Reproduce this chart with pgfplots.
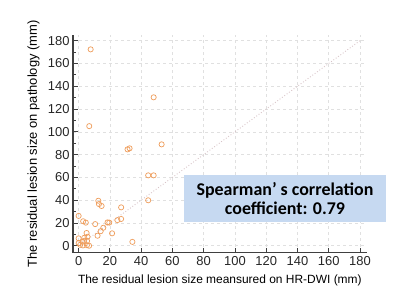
\documentclass[border=0pt]{standalone}
\usepackage{pgfplots}
\pgfplotsset{compat=1.18}
\usepackage{fontspec}
\setmainfont{Liberation Sans}
\newfontfamily\carlito{Carlito}
\definecolor{ptc}{HTML}{EE9C5A}
\definecolor{boxc}{HTML}{C6D9F1}
\definecolor{axc}{HTML}{404040}
\definecolor{diagc}{HTML}{D8C4C8}
\begin{document}
\begin{tikzpicture}
\useasboundingbox (0,0) rectangle (400bp,300bp);
\begin{axis}[
  at={(73bp,47.3bp)}, anchor=south west,
  scale only axis, width=293.7bp, height=217.7bp,
  xmin=-3.6, xmax=184.3, ymin=-6.1, ymax=185,
  xtick={0,20,...,180}, ytick={0,20,...,180},
  minor y tick num=1,
  axis x line*=bottom, axis y line*=left,
  axis line style={draw=axc, line width=1.3bp, -},
  tick align=inside,
  major tick length=5bp, minor tick length=3bp,
  tick style={draw=axc, line width=0.8bp},
  grid=major,
  major grid style={draw=black!12, line width=0.5bp, dash pattern=on 3bp off 3bp},
  /pgf/number format/assume math mode=true,
  tick label style={font=\fontsize{13}{15}\selectfont, text=black!85},
  xlabel={The residual lesion size meansured on HR-DWI (mm)},
  ylabel={The residual lesion size on pathology (mm)},
  xlabel style={font=\fontsize{12}{14}\selectfont, at={([yshift=-31.3bp]axis description cs:0.5,0)}, anchor=base},
  ylabel style={font=\fontsize{13}{15}\selectfont, at={([xshift=-36bp]axis description cs:0,0.5)}, anchor=base, rotate=0},
]
\addplot[diagc, dotted, line width=0.9bp, forget plot] coordinates {(0,0) (180,180)};
\addplot[only marks, mark=o, mark size=2.6bp, mark options={draw=ptc, line width=0.7bp}] coordinates {
(7.7,172.4) (48,130.3) (6.8,105) (53.1,89) (31.3,84.6) (32.6,85.5)
(44.5,61.8) (48,61.8) (44.5,39.9) (12.6,39.5) (13,36.6) (14.7,34.9)
(27.2,33.7) (0,26.2) (2.9,21.5) (4.6,20.3) (10.6,19) (18.5,20.5)
(19.6,20.3) (24.8,22.5) (27.2,23.5) (15.8,15.8) (14.1,12.8) (12.1,8.8)
(21.4,10.9) (34.4,3.4) (5.1,11.2) (0,6.5) (0,2.3) (1,0.8) (2.8,0.3)
(6.7,0) (3.6,7) (5.7,7.9) (2.5,3.5) (5.4,4.2) (3.6,4.3) (5.3,0.5)
};
\end{axis}
\node[fill=boxc, minimum width=202bp, minimum height=47bp, align=center, inner sep=0pt,
      font=\carlito\bfseries\fontsize{18}{19}\selectfont] at (285bp,101.5bp)
  {Spearman’ s correlation\\coefficient: 0.79};
\end{tikzpicture}
\end{document}
